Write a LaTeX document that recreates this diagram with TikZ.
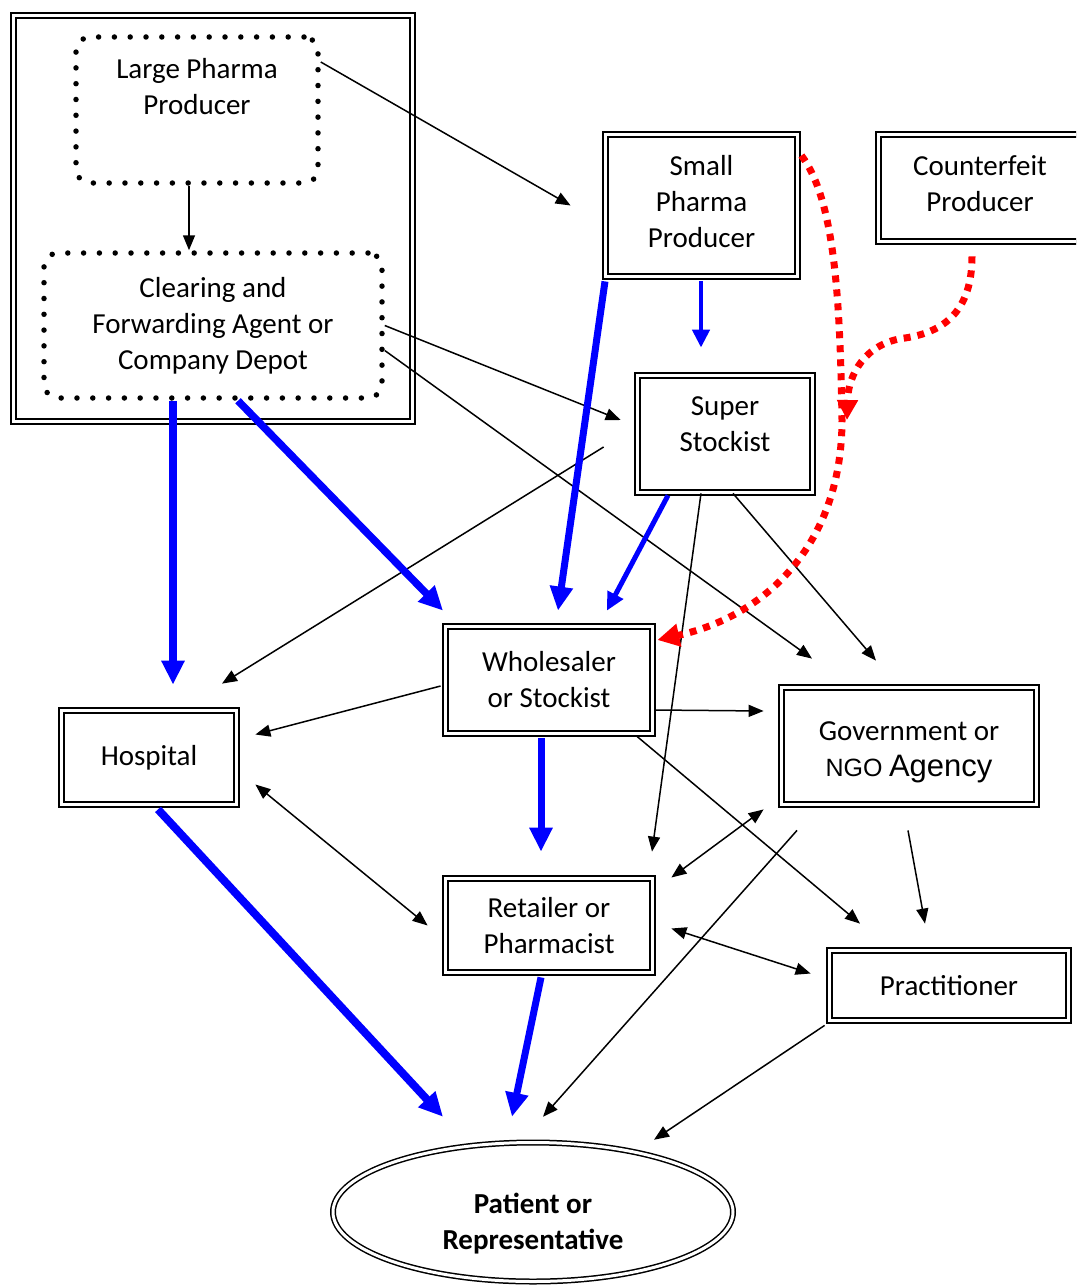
\documentclass[tikz,border=0pt]{standalone}
\usepackage{fontspec}
\setmainfont{Carlito}
\newfontfamily\arialfont{Liberation Sans}
\usetikzlibrary{arrows.meta,shapes.geometric,calc}
\tikzset{
  base/.style={font=\fontsize{29}{36}\selectfont, align=center, inner sep=0pt},
  dbox/.style={base, draw, double, line width=2.3pt, double distance=2.6pt, rectangle},
  dotbox/.style={base, draw, rounded corners=14pt, line width=5.5pt, line cap=round, dash pattern=on 0pt off 15.8pt},
  thinarr/.style={line width=1.5pt, -{Triangle[length=15pt,width=12pt]}},
  botharr/.style={line width=1.5pt, {Triangle[length=15pt,width=12pt]}-{Triangle[length=15pt,width=12pt]}},
  flow/.style={blue, line width=7.5pt, -{Triangle[length=24pt,width=22pt]}},
  flowmid/.style={blue, line width=5pt, -{Triangle[length=18pt,width=17pt]}},
  fake/.style={red, line width=7pt, dash pattern=on 7pt off 7pt, -{Triangle[length=22pt,width=22pt]}},
}
\begin{document}
\begin{tikzpicture}[x=1pt,y=-1pt]
\clip (0,0) rectangle (1076,1287);
\fill[white] (0,0) rectangle (1076,1287);

% nodes
\node[dbox, minimum width=398.5pt, minimum height=405.5pt] (outer) at (213,218.5) {};
\node[dotbox, minimum width=242pt, minimum height=146pt] (lp) at (197,110) {Large Pharma\\Producer\\\strut};
\node[dotbox, minimum width=338pt, minimum height=145pt] (cf) at (213,325.5) {Clearing and\\Forwarding Agent or\\Company Depot};
\node[dbox, minimum width=191.5pt, minimum height=141.5pt] (sp) at (701.5,205.5) {Small\\Pharma\\Producer\\[-28pt]\mbox{}};
\node[dbox, minimum width=202.5pt, minimum height=106.5pt] (cp) at (980,188) {Counterfeit\\Producer\\[-28pt]\mbox{}};
\node[dbox, minimum width=174.5pt, minimum height=116.5pt] (ss) at (725,434) {Super\\Stockist\\[-16pt]\mbox{}};
\node[dbox, minimum width=206.5pt, minimum height=106.5pt] (ws) at (549,680) {Wholesaler\\or Stockist};
\node[dbox, minimum width=174.5pt, minimum height=93.5pt] (ho) at (149,757.5) {Hospital};
\node[dbox, minimum width=254.5pt, minimum height=116.5pt] (go) at (909,746) {\mbox{}\\[-5pt]Government or\\{\arialfont\fontsize{25}{36}\selectfont NGO} {\arialfont\fontsize{31}{36}\selectfont Agency}};
\node[dbox, minimum width=206.5pt, minimum height=93.5pt] (re) at (549,925.5) {Retailer or\\Pharmacist};
\node[dbox, minimum width=238.5pt, minimum height=69.5pt] (pr) at (949,985.5) {Practitioner};
\node[base, ellipse, draw, double, line width=1.5pt, double distance=3pt, minimum width=400pt, minimum height=139pt, font=\fontsize{29}{36}\selectfont\bfseries] (pa) at (533,1212) {\mbox{}\\[8pt]Patient or\\Representative};

% thin black arrows
\draw[thinarr] ($(lp.east)+(0,-48)$) -- ($(sp.west)+(-34,0)$);
\draw[thinarr] ($(lp.south)+(-8,0)$) -- ($(cf.north)+(-24,0)$);
\draw[thinarr] (cf.east) -- ($(ss.west)+(-16,-14)$);
\draw[thinarr] ($(cf.east)+(0,25)$) -- ($(go.north)+(-97,-28)$);
\draw[thinarr] ($(ss.west)+(-33,13)$) -- ($(ho.north)+(73,-26)$);
\draw[thinarr] ($(ss.south)+(-24,0)$) -- ($(re.north)+(103,-26)$);
\draw[thinarr] ($(ss.south)+(8,0)$) -- ($(go.north)+(-33,-26)$);
\draw[thinarr] ($(ws.west)+(-4,6)$) -- ($(ho.east)+(18,-23)$);
\draw[thinarr] ($(ws.east)+(2,30)$) -- ($(go.west)+(-17,-35)$);
\draw[thinarr] ($(ws.south)+(88,2)$) -- ($(pr.north)+(-89,-26)$);
\draw[botharr] ($(ho.east)+(18,27)$) -- ($(re.west)+(-17,0)$);
\draw[botharr] ($(re.east)+(18,-48)$) -- ($(go.south west)+(-17,4)$);
\draw[botharr] ($(re.east)+(18,3)$) -- ($(pr.west)+(-18,-12)$);
\draw[thinarr] ($(go.south)+(-1,25)$) -- ($(pr.north)+(-24,-26)$);
\draw[thinarr] ($(go.south)+(-112,25)$) -- ($(pa.north)+(10,-25)$);
\draw[thinarr] ($(pr.south west)+(-4,4)$) -- ($(pa.north)+(121,-2)$);

% blue flows
\draw[flow] ($(cf.south)+(-40,0)$) -- ($(ho.north)+(24,-25)$);
\draw[flow] ($(cf.south)+(25,0)$) -- ($(ws.north)+(-106,-15)$);
\draw[flow, line width=7pt] ($(sp.south)+(-96.5,4)$) -- ($(ws.north)+(9,-15)$);
\draw[flowmid, line width=4.5pt] ($(sp.south)+(-0.5,4)$) -- ($(ss.north)+(-24,-27)$);
\draw[flowmid] ($(ss.south)+(-57,2)$) -- ($(ws.north)+(58,-15)$);
\draw[flow, line width=7pt] ($(ws.south)+(-8,4)$) -- ($(re.north)+(-8,-26)$);
\draw[flow, line width=8pt] ($(ho.south)+(9,4)$) -- ($(pa.north)+(-90,-25)$);
\draw[flow, line width=7pt] ($(re.south)+(-8,4)$) -- ($(pa.north)+(-21,-25)$);

% red counterfeit / leakage
\coordinate (merge) at (847,420);
\draw[fake] ($(sp.east)+(3,-50)$) .. controls (835,200) and (840,300) .. (842,420)
  .. controls (842,540) and (770,615) .. ($(ws.east)+(4,-40)$);
\draw[fake, -{Triangle[length=20pt,width=20pt]}] ($(cp.south)+(-8,14)$) .. controls (972,310) and (945,332) .. (905,338)
  .. controls (865,343) and (848,375) .. (merge);
\end{tikzpicture}
\end{document}
